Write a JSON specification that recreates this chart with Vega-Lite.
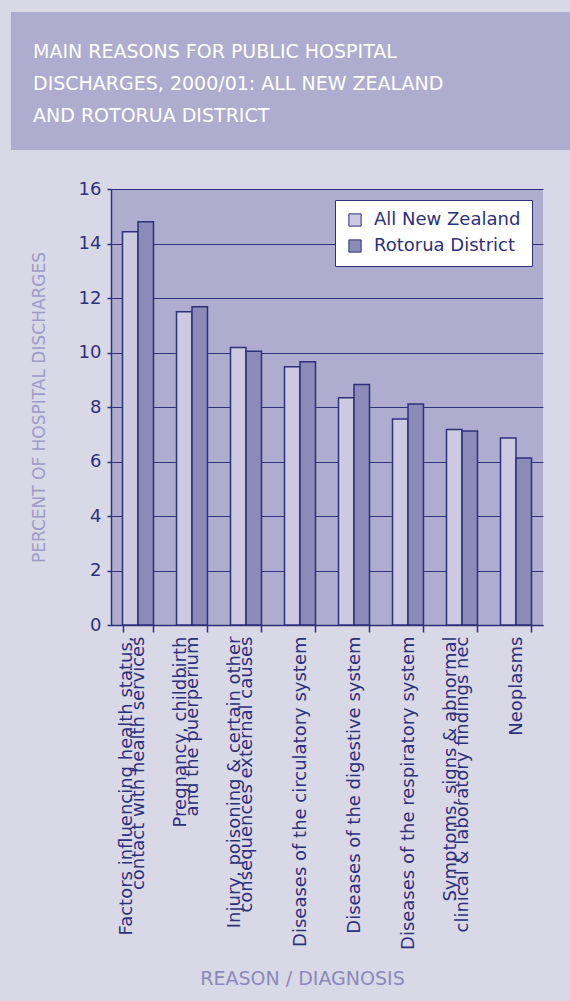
{
  "$schema": "https://vega.github.io/schema/vega-lite/v6.json",
  "background": "#D8D8E6",
  "padding": {"left": 11, "top": 12, "right": 0, "bottom": 13},
  "config": {"view": {"stroke": null}, "font": "DejaVu Sans"},
  "spacing": 30,
  "resolve": {"scale": {"color": "independent"}, "legend": {"color": "independent"}},
  "vconcat": [
    {
      "width": 559,
      "height": 138,
      "view": {"fill": "#AEADCF", "stroke": null},
      "title": {
        "text": ["MAIN REASONS FOR PUBLIC HOSPITAL", "DISCHARGES, 2000/01: ALL NEW ZEALAND", "AND ROTORUA DISTRICT"],
        "orient": "top",
        "anchor": "start",
        "offset": -129,
        "dx": 22,
        "baseline": "alphabetic",
        "lineHeight": 32,
        "fontSize": 19,
        "fontWeight": "normal",
        "color": "#FFFFFF",
        "font": "DejaVu Sans"
      },
      "data": {"values": []},
      "mark": "rect",
      "encoding": {}
    },
    {
      "spacing": 18,
      "resolve": {"scale": {"color": "independent"}, "legend": {"color": "independent"}},
      "hconcat": [
        {
          "width": 1,
          "height": 1,
          "data": {"values": []},
          "mark": "rect",
          "encoding": {}
        },
        {
          "width": 432,
          "height": 436,
          "view": {"fill": "#AEADCF", "stroke": null},
          "data": {
            "values": [
              {"reason": "Factors influencing health status,|contact with health services", "series": "All New Zealand", "value": 14.43},
              {"reason": "Factors influencing health status,|contact with health services", "series": "Rotorua District", "value": 14.8},
              {"reason": "Pregnancy, childbirth|and the puerperium", "series": "All New Zealand", "value": 11.5},
              {"reason": "Pregnancy, childbirth|and the puerperium", "series": "Rotorua District", "value": 11.68},
              {"reason": "Injury, poisoning & certain other|consequences external causes", "series": "All New Zealand", "value": 10.18},
              {"reason": "Injury, poisoning & certain other|consequences external causes", "series": "Rotorua District", "value": 10.05},
              {"reason": "Diseases of the circulatory system", "series": "All New Zealand", "value": 9.48},
              {"reason": "Diseases of the circulatory system", "series": "Rotorua District", "value": 9.66},
              {"reason": "Diseases of the digestive system", "series": "All New Zealand", "value": 8.34},
              {"reason": "Diseases of the digestive system", "series": "Rotorua District", "value": 8.83},
              {"reason": "Diseases of the respiratory system", "series": "All New Zealand", "value": 7.56},
              {"reason": "Diseases of the respiratory system", "series": "Rotorua District", "value": 8.11},
              {"reason": "Symptoms, signs & abnormal|clinical & laboratory findings nec", "series": "All New Zealand", "value": 7.17},
              {"reason": "Symptoms, signs & abnormal|clinical & laboratory findings nec", "series": "Rotorua District", "value": 7.12},
              {"reason": "Neoplasms", "series": "All New Zealand", "value": 6.86},
              {"reason": "Neoplasms", "series": "Rotorua District", "value": 6.13}
            ]
          },
          "mark": {"type": "bar", "stroke": "#2E307A", "strokeWidth": 1.5},
          "encoding": {
            "x": {
              "field": "reason",
              "type": "nominal",
              "sort": null,
              "scale": {"paddingInner": 0.426, "paddingOuter": 0.213},
              "axis": {
                "title": "REASON / DIAGNOSIS",
                "labelExpr": "indexof(datum.label, '|') >= 0 ? [split(datum.label, '|')[0], '\u00a0', split(datum.label, '|')[1]] : ['', datum.label, '']",
                "labelAngle": -90,
                "labelFontSize": 18,
                "labelColor": "#2E307A",
                "labelLineHeight": 11.5,
                "labelLimit": 500,
                "labelPadding": 4,
                "labelOffset": -11.5,
                "tickBand": "extent",
                "tickSize": 7,
                "tickColor": "#2E307A",
                "tickWidth": 1.5,
                "domainColor": "#2E307A",
                "domainWidth": 1.5,
                "titleFontSize": 19,
                "titleFontWeight": "normal",
                "titleColor": "#8B8ABB",
                "titleX": 191,
                "titleAlign": "center",
                "titleY": 353,
                "titleBaseline": "middle"
              }
            },
            "xOffset": {"field": "series", "type": "nominal", "sort": ["All New Zealand", "Rotorua District"]},
            "y": {
              "field": "value",
              "type": "quantitative",
              "scale": {"domain": [0, 16], "nice": false},
              "axis": {
                "values": [0, 2, 4, 6, 8, 10, 12, 14, 16],
                "title": "PERCENT OF HOSPITAL DISCHARGES",
                "titleFontSize": 17,
                "titleFontWeight": "normal",
                "titleColor": "#9D9CC6",
                "titlePadding": 30,
                "labelFontSize": 18,
                "labelColor": "#2E307A",
                "labelPadding": 6,
                "tickSize": 4,
                "tickColor": "#2E307A",
                "tickWidth": 1.5,
                "domainColor": "#2E307A",
                "domainWidth": 1.5,
                "grid": true,
                "gridColor": "#2E307A",
                "gridWidth": 1.2
              }
            },
            "color": {
              "field": "series",
              "type": "nominal",
              "scale": {"domain": ["All New Zealand", "Rotorua District"], "range": ["#CBCAE0", "#8B8AB9"]},
              "legend": {
                "title": null,
                "orient": "top-right",
                "offset": 11,
                "fillColor": "#FFFFFF",
                "strokeColor": "#2E307A",
                "padding": 11,
                "labelFontSize": 18,
                "labelColor": "#2E307A",
                "symbolType": "square",
                "symbolSize": 150,
                "symbolStrokeColor": "#2E307A",
                "symbolStrokeWidth": 1,
                "symbolOpacity": 1,
                "rowPadding": 8,
                "labelOffset": 10
              }
            }
          }
        }
      ]
    }
  ]
}
